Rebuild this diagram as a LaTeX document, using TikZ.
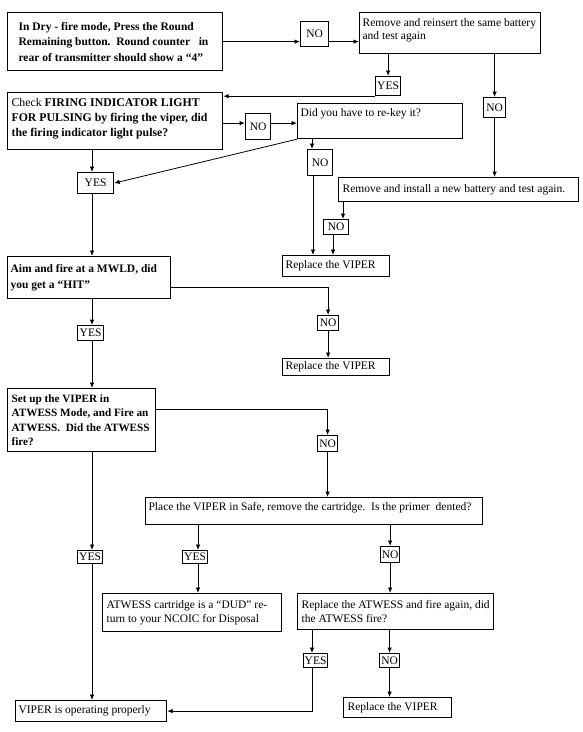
\documentclass[tikz,border=0pt]{standalone}
\usepackage{fontspec}
\setmainfont{Liberation Serif}
\usetikzlibrary{arrows.meta}
\newcommand\bx[5]{\parbox[c][\dimexpr#2pt-6pt\relax][#3]{\dimexpr#1pt-6pt\relax}{\raggedright\leftskip=#4pt\relax #5}}
\begin{document}
\begin{tikzpicture}[x=1pt,y=-1pt,
 bbox/.style={draw, line width=1.2pt, inner xsep=3pt, inner ysep=3pt, anchor=north west, font=\fontsize{11.5}{14}\selectfont},
 sbox/.style={draw, line width=1.2pt, inner sep=0pt, anchor=north west, font=\fontsize{11.5}{14}\selectfont, align=center},
 arr/.style={draw, line width=0.8pt, -{Latex[length=5.5pt,width=4.5pt]}}]
\fill[white] (0,0) rectangle (582,732);
\useasboundingbox (0,0) rectangle (582,732);
% column coordinates
\coordinate (c92) at (92,0);
\coordinate (c312) at (312,0);
\coordinate (c313) at (313,0);
\coordinate (c343) at (343,0);
\coordinate (c333) at (333,0);
\coordinate (c198) at (198,0);
% big boxes
\node[bbox] (dry) at (7,12) {\bx{215}{58}{c}{8}{\bfseries\fontsize{11.5}{15.5}\selectfont In Dry - fire mode, Press the Round\\ Remaining button.\ \ Round counter\ \ \ in\\ rear of transmitter should show a “4”}};
\node[bbox] (remove) at (359,12) {\bx{181}{41}{t}{0}{\fontsize{11.5}{13}\selectfont\rule{0pt}{10.5pt}Remove and reinsert the same battery\\ and test again}};
\node[bbox] (check) at (7,92) {\bx{215}{57}{t}{1}{\fontsize{11.8}{15}\selectfont\strut Check \textbf{FIRING INDICATOR LIGHT}\\ \textbf{FOR PULSING by firing the viper, did}\\ \textbf{the firing indicator light pulse?}}};
\node[bbox] (rekey) at (297,103) {\bx{165}{35}{t}{0}{\strut Did you have to re-key it?}};
\node[bbox] (newbat) at (338,177) {\bx{240}{24}{c}{1}{Remove and install a new battery and test again.}};
\node[bbox] (replace1) at (282,255) {\bx{107}{21}{c}{0}{Replace the VIPER}};
\node[bbox] (aim) at (7,256) {\bx{163}{42}{c}{0}{\bfseries\fontsize{11.5}{16}\selectfont Aim and fire at a MWLD, did\\ you get a “HIT”}};
\node[bbox] (replace2) at (282,358) {\bx{107}{17}{c}{0}{Replace the VIPER}};
\node[bbox] (setup) at (7,388) {\bx{148}{63}{c}{1}{\bfseries\fontsize{11.2}{14.3}\selectfont Set up the VIPER in\\ ATWESS Mode, and Fire an\\ ATWESS.\ \ Did the ATWESS\\ fire?}};
\node[bbox] (place) at (145,497) {\bx{337}{27}{t}{0}{\strut Place the VIPER in Safe, remove the cartridge.\ \ Is the primer\ \ dented?}};
\node[bbox] (dud) at (102,593) {\bx{179}{38}{c}{1}{ATWESS cartridge is a “DUD” re-\\ turn to your NCOIC for Disposal}};
\node[bbox] (repatw) at (297,593) {\bx{196}{36}{c}{1}{Replace the ATWESS and fire again, did\\ the ATWESS fire?}};
\node[bbox] (viper) at (15,700) {\bx{151}{21}{c}{0}{VIPER is operating properly}};
\node[bbox] (replace3) at (343,697) {\bx{108}{20}{c}{1}{Replace the VIPER}};
% small boxes
\node[sbox, minimum width=28pt, minimum height=25pt] (no1) at (300,21) {NO};
\node[sbox, minimum width=25pt, minimum height=19pt] (yes1) at (375,76) {YES};
\node[sbox, minimum width=22pt, minimum height=20pt] (no4) at (483,97) {NO};
\node[sbox, minimum width=25pt, minimum height=26pt] (no2) at (245,113) {NO};
\node[sbox, minimum width=36pt, minimum height=21pt] (yes2) at (77,172) {YES};
\node[sbox, minimum width=25pt, minimum height=26pt] (no3) at (307,149) {NO};
\node[sbox, minimum width=25pt, minimum height=15pt] (no5) at (323,219) {NO};
\node[sbox, minimum width=21pt, minimum height=15pt] (no6) at (317,315) {NO};
\node[sbox, minimum width=26pt, minimum height=15pt] (yes3) at (77,325) {YES};
\node[sbox, minimum width=20pt, minimum height=16pt] (no7) at (317,435) {NO};
\node[sbox, minimum width=25pt, minimum height=13pt] (yes4) at (77,550) {YES};
\node[sbox, minimum width=25pt, minimum height=13pt] (yes5) at (182,550) {YES};
\node[sbox, minimum width=19pt, minimum height=16pt] (no8) at (380,546) {NO};
\node[sbox, minimum width=24pt, minimum height=14pt] (yes6) at (303,653) {YES};
\node[sbox, minimum width=20pt, minimum height=14pt] (no9) at (379,653) {NO};
% connectors
\draw[arr] (dry.east) -- (dry.east -| no1.west);
\draw[arr] (no1.east |- dry.east) -- (remove.west |- dry.east);
\draw[arr] (remove.south -| yes1.north) -- (yes1.north);
\draw[arr] (yes1.south west) -- (yes1.south west -| check.east);
\draw[arr] (remove.south -| no4.north) -- (no4.north);
\draw[arr] (no4.south) -- (newbat.north -| no4.south);
\draw[arr] ([yshift=-2pt]check.east) -- ([yshift=-2pt]check.east -| no2.west);
\draw[arr] ([yshift=-2pt]check.east -| no2.east) -- ([yshift=-2pt]check.east -| rekey.west);
\draw[arr] (rekey.south west) -- (yes2.east);
\draw[arr] (rekey.south -| c312) -- (no3.north -| c312);
\draw[arr] (no3.south -| c313) -- (replace1.north -| c313);
\draw[arr] (newbat.south -| c343) -- (no5.north -| c343);
\draw[arr] (no5.south -| c333) -- (replace1.north -| c333);
\draw[arr] (check.south -| c92) -- (yes2.north -| c92);
\draw[arr] (yes2.south -| c92) -- (aim.north -| c92);
\draw[arr] (aim.south -| c92) -- (yes3.north -| c92);
\draw[arr] (yes3.south -| c92) -- (setup.north -| c92);
\draw[arr] ([yshift=-10pt]aim.east) -| (no6.north);
\draw[arr] (no6.south) -- (replace2.north -| no6.south);
\draw[arr] ([yshift=11pt]setup.east) -| (no7.north);
\draw[arr] (no7.south) -- (place.north -| no7.south);
\draw[arr] (setup.south -| c92) -- (yes4.north -| c92);
\draw[arr] (yes4.south -| c92) -- (viper.north -| c92);
\draw[arr] (place.south -| c198) -- (yes5.north -| c198);
\draw[arr] (yes5.south -| c198) -- (dud.north -| c198);
\draw[arr] (place.south -| no8.north) -- (no8.north);
\draw[arr] (no8.south) -- (repatw.north -| no8.south);
\draw[arr] (repatw.south -| c312) -- (yes6.north -| c312);
\draw[arr] (yes6.south -| c312) |- (viper.east);
\draw[arr] (repatw.south -| no9.north) -- (no9.north);
\draw[arr] (no9.south) -- (replace3.north -| no9.south);
\end{tikzpicture}
\end{document}
